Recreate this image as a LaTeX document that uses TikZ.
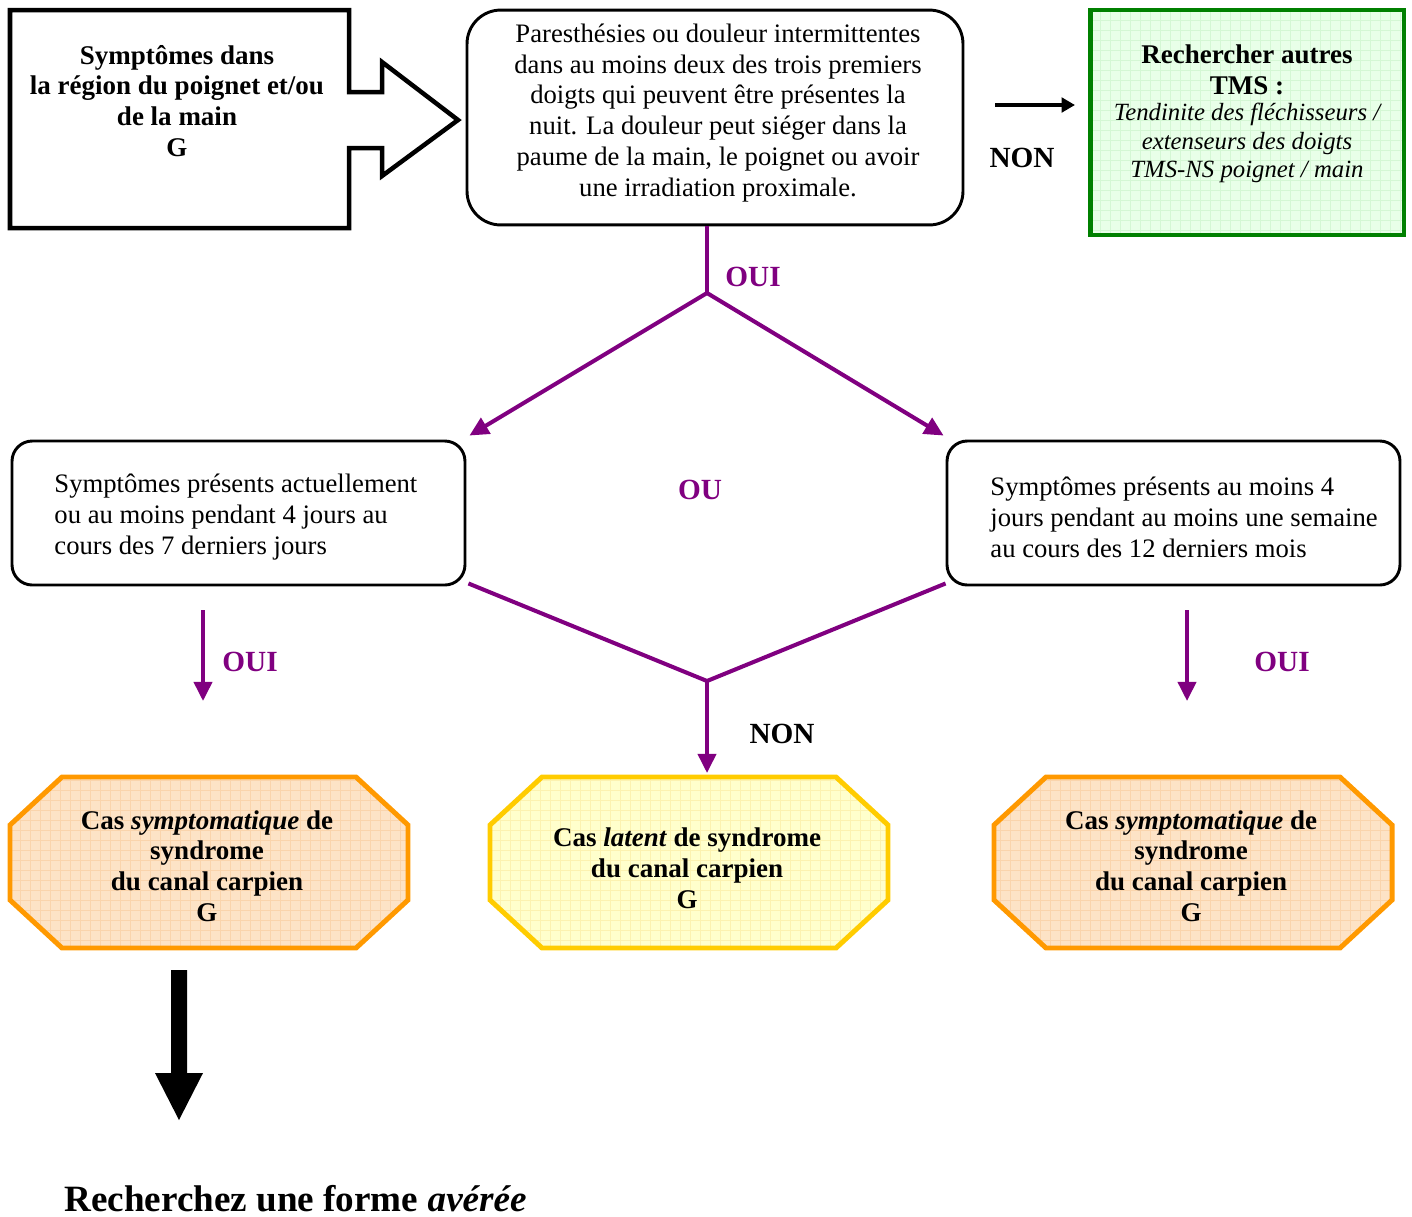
\documentclass[tikz,border=0pt]{standalone}
\usepackage{fontspec}
\setmainfont{Liberation Serif}
\usetikzlibrary{arrows.meta}

\definecolor{purp}{HTML}{800080}
\definecolor{greenline}{HTML}{008000}
\definecolor{greenfill}{HTML}{E8FFE8}
\definecolor{greengrid}{HTML}{D4F7D4}
\definecolor{orangeline}{HTML}{FF9900}
\definecolor{orangefill}{HTML}{FDE3C6}
\definecolor{orangegrid}{HTML}{FAD4AC}
\definecolor{yellowline}{HTML}{FFCC00}
\definecolor{yellowfill}{HTML}{FFFFCC}
\definecolor{yellowgrid}{HTML}{FCF2B0}

% octagon outline with its corner cuts, from its left/top/right/bottom edges
\newcommand{\octpath}[4]{(#1+52,#2)--(#3-52,#2)--(#3,#2+48)--(#3,#4-48)--(#3-52,#4)--(#1+52,#4)--(#1,#4-48)--(#1,#2+48)--cycle}
% filled shape with a fine grid pattern, then its border
\newcommand{\gridshape}[4]{%
  \begin{scope}
    \clip #1;
    \fill[#2] #1;
    \draw[#3, line width=0.35pt, step=4.444pt] (0,0) grid (1412,1216);
  \end{scope}
  \draw[#4] #1;}

\begin{document}
\begin{tikzpicture}[x=0.4444pt, y=-0.4444pt,
  txt/.style={font=\fontsize{11.85}{13.75}\selectfont, align=center, inner sep=0pt},
  boldtxt/.style={font=\fontsize{12}{13.7}\selectfont\bfseries, align=center, inner sep=0pt},
  itxt/.style={font=\fontsize{11}{12.6}\selectfont\itshape, align=center, inner sep=0pt},
  lbl/.style={font=\fontsize{13}{15}\selectfont\bfseries, inner sep=0pt},
  qbox/.style={draw, line width=1.3pt, rounded corners=15pt, minimum width=220.4pt, minimum height=95.5pt, inner sep=0pt},
  critbox/.style={draw, line width=1.3pt, rounded corners=9pt, minimum width=201.3pt, minimum height=64pt, inner sep=0pt},
  greenbox/.style={draw=greenline, line width=2.2pt, minimum width=139.5pt, minimum height=100pt, inner sep=0pt},
  flow/.style={draw=purp, line width=1.8pt},
  flowarrow/.style={flow, -{Triangle[length=8.5pt, width=8pt]}},
  blackarrow/.style={line width=1.8pt, -{Triangle[length=6pt, width=6.5pt]}}]

\useasboundingbox (0,0) rectangle (1412,1216);

% entry block arrow
\draw[line width=2pt, line join=miter]
  (10,10)--(349,10)--(349,92)--(382,92)--(382,62)--(458,120)--(382,176)--(382,148)--(349,148)--(349,228)--(10,228)--cycle;
\node[boldtxt] (start) at (177,101) {Symptômes dans\\la région du poignet et/ou\\de la main\\G};

% main question
\node[qbox] (q1) at (715,117.5) {};
\node[txt] (q1t) at (718,113) {Paresthésies ou douleur intermittentes\\dans au moins deux des trois premiers\\doigts qui peuvent être présentes la\\nuit. La douleur peut siéger dans la\\paume de la main, le poignet ou avoir\\une irradiation proximale.};

% other disorders
\begin{scope}
  \clip (1090,10) rectangle (1404,235);
  \fill[greenfill] (1090,10) rectangle (1404,235);
  \draw[greengrid, line width=0.35pt, step=4.444pt] (1080,0) grid (1412,240);
\end{scope}
\node[greenbox] (other) at (1247,122.5) {};
\node[boldtxt] (othert) at (1247,70) {Rechercher autres\\TMS :};
\node[itxt] (otheri) at (1247,143) {Tendinite des fléchisseurs /\\extenseurs des doigts\\TMS-NS poignet / main};

\coordinate (non1a) at (995,105);
\coordinate (non1b) at (1075,105);
\draw[blackarrow] (non1a) -- (non1b);
\node[lbl] (non1) at (1022,158) {NON};

% split towards the two duration criteria
\coordinate (split) at (707,293);
\draw[flow] (q1.south -| split) -- (split);
\node[lbl, text=purp] (oui1) at (753,277) {OUI};

\node[critbox] (left) at (238.5,513) {};
\node[critbox] (right) at (1173.5,513) {};
\node[txt, align=left, anchor=west] (leftt) at (54,517) {Symptômes présents actuellement\\ou au moins pendant 4 jours au\\cours des 7 derniers jours};
\node[txt, align=left, anchor=west] (rightt) at (990,517) {Symptômes présents au moins 4\\jours pendant au moins une semaine\\au cours des 12 derniers mois};

\draw[flowarrow] (split) -- ([shift={(3,-4)}]left.north east);
\draw[flowarrow] (split) -- ([shift={(-2,-4)}]right.north west);
\node[lbl, text=purp] (ou) at (700,490) {OU};

% neither criterion met
\coordinate (join) at (707,681);
\draw[flow, line join=miter] ([shift={(2,-3)}]left.south east) -- (join) -- ([shift={(0,-3)}]right.south west);

% outcomes
\gridshape{\octpath{10}{777}{408}{948}}{orangefill}{orangegrid}{orangeline, line width=2.2pt}
\gridshape{\octpath{490}{777}{888}{948}}{yellowfill}{yellowgrid}{yellowline, line width=2.2pt}
\gridshape{\octpath{994}{777}{1392}{948}}{orangefill}{orangegrid}{orangeline, line width=2.2pt}
\node[boldtxt] (sympL) at (207,866) {Cas \textit{symptomatique} de\\syndrome\\du canal carpien\\G};
\node[boldtxt] (latent) at (687,868) {Cas \textit{latent} de syndrome\\du canal carpien\\G};
\node[boldtxt] (sympR) at (1191,866) {Cas \textit{symptomatique} de\\syndrome\\du canal carpien\\G};

\coordinate (latentTop) at (707,773);
\draw[flowarrow] (join) -- (latentTop);
\node[lbl] (non2) at (782,734) {NON};

\coordinate (ouiLa) at (203,610);
\coordinate (ouiLb) at (203,701);
\draw[flowarrow] (ouiLa) -- (ouiLb);
\node[lbl, text=purp] (oui2) at (250,662) {OUI};

\coordinate (ouiRa) at (1187,610);
\coordinate (ouiRb) at (1187,701);
\draw[flowarrow] (ouiRa) -- (ouiRb);
\node[lbl, text=purp] (oui3) at (1282,662) {OUI};

% large arrow to the final advice
\fill (171,970)--(187,970)--(187,1073)--(203,1073)--(179,1120)--(155,1073)--(171,1073)--cycle;
\node[font=\fontsize{16.5}{19.5}\selectfont\bfseries, anchor=base west, inner sep=0pt] (advice) at (64,1211) {Recherchez une forme \textit{avérée}};

\end{tikzpicture}
\end{document}
